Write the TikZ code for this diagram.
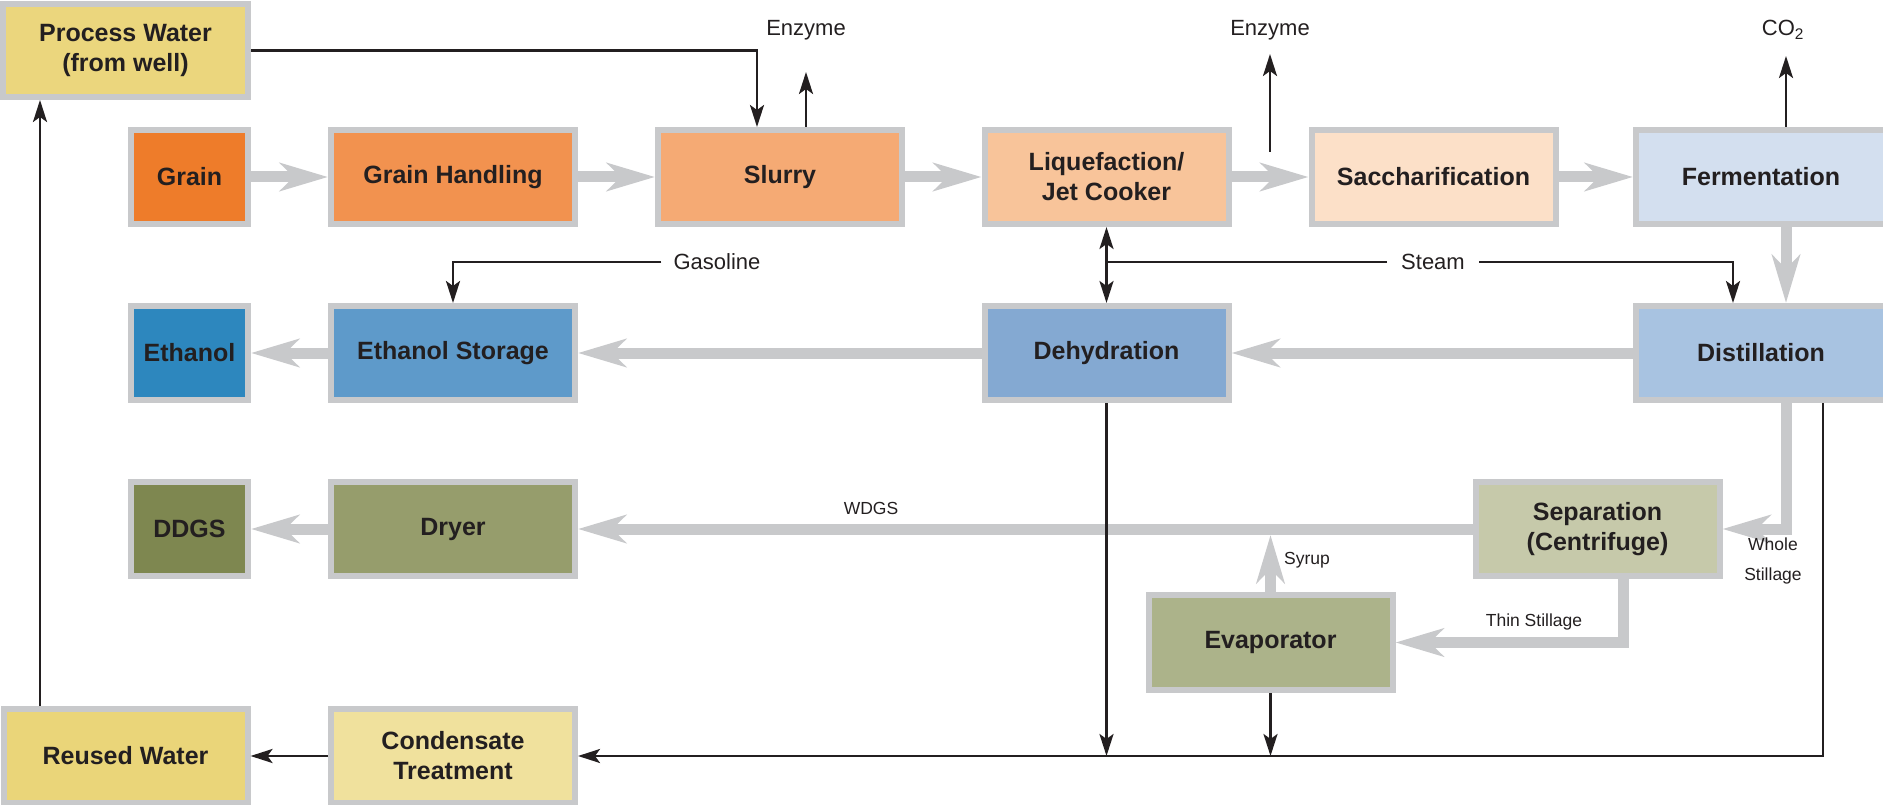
\documentclass[tikz,border=0pt]{standalone}
\usepackage{fontspec}
\setmainfont{Liberation Sans}
\usetikzlibrary{arrows.meta}
\definecolor{txt}{HTML}{231F20}
\definecolor{boxgray}{HTML}{C8C9CB}
\definecolor{flowgray}{HTML}{C8C9CB}
\definecolor{cGrain}{HTML}{EE7C2A}
\definecolor{cGH}{HTML}{F2924F}
\definecolor{cSlurry}{HTML}{F5AA74}
\definecolor{cLiq}{HTML}{F8C49A}
\definecolor{cSac}{HTML}{FCE0C8}
\definecolor{cFer}{HTML}{D3DFEF}
\definecolor{cDist}{HTML}{A8C3E1}
\definecolor{cDeh}{HTML}{84A9D2}
\definecolor{cES}{HTML}{5E9ACA}
\definecolor{cEth}{HTML}{2D87BE}
\definecolor{cDDGS}{HTML}{7E8750}
\definecolor{cDryer}{HTML}{969D6C}
\definecolor{cEvap}{HTML}{ACB38A}
\definecolor{cSep}{HTML}{C6C9AA}
\definecolor{cPW}{HTML}{EBD67D}
\definecolor{cRW}{HTML}{EAD579}
\definecolor{cCT}{HTML}{F0E19D}
\begin{document}
\begin{tikzpicture}[x=1pt,y=-1pt,
  box/.style={draw=boxgray, line width=6pt, inner sep=0pt, align=center, text=txt,
    font=\fontsize{25}{30}\selectfont\bfseries},
  wide/.style={minimum width=244pt, minimum height=94pt},
  narrow/.style={minimum width=117pt, minimum height=94pt},
  flow/.style={draw=flowgray, line width=11pt, -{Stealth[length=48pt,width=28pt,inset=14pt]}},
  plainline/.style={draw=txt, line width=2.6pt},
  conn/.style={plainline, -{Stealth[length=22pt,width=14pt,inset=5pt]}},
  lbl/.style={text=txt, inner sep=2pt, font=\fontsize{22}{26}\selectfont},
  gaplbl/.style={lbl, inner sep=12pt},
  small/.style={text=txt, inner sep=1pt, align=center, font=\fontsize{17.5}{30}\selectfont}]
\useasboundingbox (0,0) rectangle (1883,805);

% boxes
\node[box, wide, fill=cPW, minimum width=245pt, minimum height=93pt] (pw) at (125.5,50.5) {Process Water\\(from well)};
\node[box, narrow, fill=cGrain] (grain) at (189.5,177) {Grain};
\node[box, wide, fill=cGH] (gh) at (453,177) {Grain Handling};
\node[box, wide, fill=cSlurry] (slurry) at (780,177) {Slurry};
\node[box, wide, fill=cLiq] (liq) at (1106.5,177) {Liquefaction/\\Jet Cooker};
\node[box, wide, fill=cSac] (sacch) at (1433.5,177) {Saccharification};
\node[box, wide, fill=cFer, minimum width=250pt] (ferm) at (1761,177) {Fermentation};
\node[box, narrow, fill=cEth] (eth) at (189.5,353) {Ethanol};
\node[box, wide, fill=cES] (es) at (453,353) {Ethanol Storage};
\node[box, wide, fill=cDeh] (deh) at (1106.5,353) {Dehydration};
\node[box, wide, fill=cDist, minimum width=250pt] (dist) at (1761,353) {Distillation};
\node[box, narrow, fill=cDDGS] (ddgs) at (189.5,529) {DDGS};
\node[box, wide, fill=cDryer] (dryer) at (453,529) {Dryer};
\node[box, wide, fill=cSep] (sep) at (1597.5,529) {Separation\\(Centrifuge)};
\node[box, wide, fill=cEvap, minimum height=95pt] (evap) at (1270.5,642.5) {Evaporator};
\node[box, wide, fill=cRW] (rw) at (125.5,756) {Reused Water};
\node[box, wide, fill=cCT] (ct) at (453,756) {Condensate\\Treatment};

% helper coordinates
\coordinate (fx) at (1786,0);
\coordinate (sx) at (1623,0);
\coordinate (pwx) at (757,0);
\coordinate (dx) at (1733,0);
\coordinate (dx2) at (1823,0);
\coordinate (wx) at (40,0);
\coordinate (by) at (0,756);
\coordinate (syr) at (1270.5,535);
\coordinate (e1t) at (806,72);
\coordinate (e2b) at (1270,152);
\coordinate (e2t) at (1270,54);
\coordinate (co2t) at (1786,56);
\coordinate (sj) at (1106.5,262);

% gray flow arrows
\draw[flow] (grain) -- (gh);
\draw[flow] (gh) -- (slurry);
\draw[flow] (slurry) -- (liq);
\draw[flow] (liq) -- (sacch);
\draw[flow] (sacch) -- (ferm);
\draw[flow] (fx |- ferm.south) -- (fx |- dist.north);
\draw[flow] (dist) -- (deh);
\draw[flow] (deh) -- (es);
\draw[flow] (es) -- (eth);
\draw[flow] (fx |- dist.south) |- (sep.east);
\draw[flow] (sep.west) -- (dryer.east);
\draw[flow] (dryer) -- (ddgs);
\draw[flow] (sx |- sep.south) |- (evap.east);
\draw[flow] (evap.north) -- (syr);

% labels
\node[lbl] (enz1) at (806,30) {Enzyme};
\node[lbl] (enz2) at (1270,30) {Enzyme};
\node[lbl] (co2) at (1783,30) {CO\textsubscript{2}};
\node[gaplbl] (gas) at (717,262) {Gasoline};
\node[gaplbl, inner sep=14pt] (steam) at (1433,262) {Steam};
\node[small] (wdgs) at (871,508) {WDGS};
\node[small] (syrup) at (1307,560) {Syrup};
\node[small] (thin) at (1534,622) {Thin Stillage};
\node[small] (whole) at (1773,561) {Whole\\Stillage};

% black connectors
\draw[conn] (pw.east) -| (pwx |- slurry.north);
\draw[conn] (enz1 |- slurry.north) -- (e1t);
\draw[conn] (e2b) -- (e2t);
\draw[conn] (fx |- ferm.north) -- (co2t);
\draw[conn] (gas.west) -| (es.north);
\draw[plainline] (steam.west) -- (sj);
\draw[conn] (steam.east) -| (dx |- dist.north);
\draw[plainline, {Stealth[length=22pt,width=14pt,inset=5pt]}-{Stealth[length=22pt,width=14pt,inset=5pt]}] (liq.south) -- (deh.north);
\draw[conn] (deh.south) -- (deh.south |- by);
\draw[conn] (evap.south) -- (evap.south |- by);
\draw[conn] (dx2 |- dist.south) |- (ct.east);
\draw[conn] (ct.west) -- (rw.east);
\draw[conn] (wx |- rw.north) -- (wx |- pw.south);
\end{tikzpicture}
\end{document}
